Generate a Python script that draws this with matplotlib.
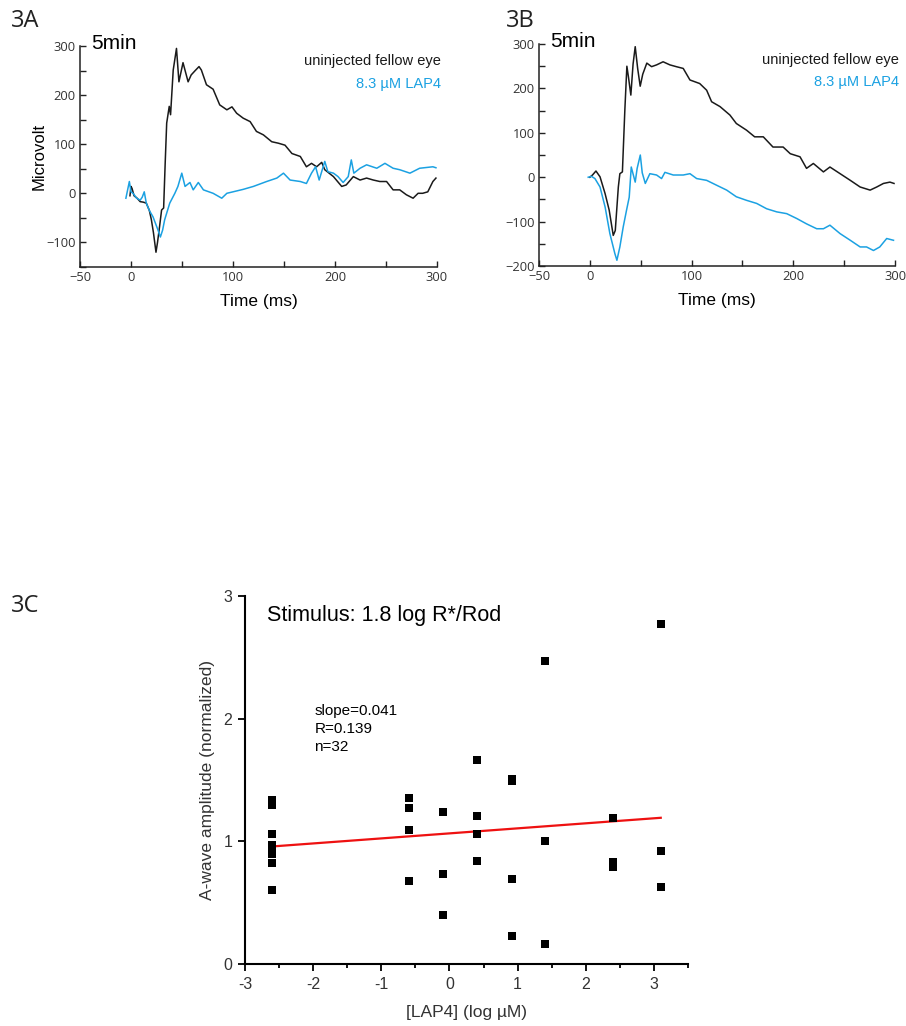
import matplotlib
matplotlib.use("Agg")
import matplotlib.pyplot as plt
import numpy as np

# ---------------- data ----------------
# Panel 3A
a_fellow_t = [-1, 0, 1, 3, 6, 9, 12, 15, 18, 20, 22, 24.5, 26, 28, 30, 32, 33.5, 35, 37.5, 38.8,
              41.4, 44.6, 47, 51, 56, 59, 63, 66.7, 69, 74, 80.5, 87, 94, 99, 103.6, 110, 116.8,
              123, 129.8, 138, 144.5, 151, 157.8, 166, 172, 177, 182, 187, 190, 198.5, 206.6,
              211, 218, 224.6, 231, 237.6, 244, 250.6, 257, 263.5, 270, 276.6, 281.5, 286, 291,
              296, 299]
a_fellow_v = [-5, 14, 10, -5, -10, -17, -18, -20, -35, -54, -80, -120, -100, -68, -34, -30, 60,
              143, 177, 160, 251, 295, 227, 266, 227, 241, 250, 258, 251, 221, 212, 180, 170,
              176, 163, 153, 146, 126, 119, 105, 102, 98, 81, 75, 54, 61, 54, 63, 48, 34, 14,
              17, 34, 27, 31, 27, 24, 24, 7, 7, -3, -10, 0, 0, 3, 24, 31]
a_lap4_t = [-5, -1.6, 0, 2, 5.6, 9, 11, 13, 15, 18, 21.6, 26.5, 28.8, 31, 33, 38, 43, 46, 49.8,
            53, 57.8, 61, 66, 71, 80.5, 89, 94, 100, 110, 120, 133, 143, 149.5, 156, 166, 172,
            177, 181, 184.5, 190, 193, 198.5, 203, 208, 213, 216, 218.5, 224.6, 231, 241, 249,
            257, 263.5, 273.5, 283, 296, 299]
a_lap4_v = [-10, 24, 3, 0, -10, -14, -8, 3, -20, -35, -48, -75, -89, -75, -54, -20, 0, 14, 41,
            14, 22, 7, 22, 7, 0, -10, 0, 3, 8, 14, 24, 31, 41, 27, 24, 20, 41, 54, 27, 65, 44,
            41, 34, 22, 34, 68, 41, 51, 58, 51, 61, 51, 48, 41, 51, 54, 52]

# Panel 3B
b_fellow_t = [0, 2.6, 6, 10, 15, 19, 23, 25, 28, 29.5, 32, 34.4, 36.4, 38, 40.3, 42.5, 44.6, 47,
              49.5, 52, 56, 60.7, 65.6, 72, 78.7, 85, 91.8, 98.4, 108, 114.8, 119.7, 128, 137.7,
              144, 154, 162, 170.5, 180, 190, 197, 206.6, 213, 219.7, 229.6, 236, 246, 256,
              265.7, 275.5, 282, 288.6, 295, 299]
b_fellow_v = [0, 5, 14, 1, -37, -74, -131, -120, -22, 8, 12, 151, 250, 225, 185, 255, 294, 245,
              205, 232, 257, 249, 253, 260, 253, 249, 245, 219, 211, 196, 170, 159, 140, 121,
              106, 91, 91, 68, 68, 53, 46, 20, 31, 12, 23, 8, -7, -22, -29, -22, -14, -11, -14]
b_lap4_t = [-1.6, 1.6, 5, 10, 15, 19.7, 24.6, 26.6, 29.5, 32.8, 36, 38.7, 40.7, 44.6, 46.5,
            49.6, 51.5, 54.5, 59, 65.6, 70.5, 73.8, 82, 91.8, 98.4, 105, 114.8, 124.6, 134.5,
            144, 154, 164, 173.8, 183.7, 193.5, 203.4, 213, 223, 229.6, 236, 246, 256, 265.7,
            272, 278.8, 285, 291.8, 298.5]
b_lap4_v = [0, 2, -3, -22, -67, -127, -172, -187, -157, -112, -75, -45, 23, -11, 20, 50, 10,
            -14, 8, 5, -3, 11, 5, 5, 8, -3, -7, -18, -29, -44, -52, -59, -71, -78, -82, -93,
            -105, -116, -116, -108, -127, -142, -157, -157, -165, -157, -138, -142]

# Panel 3C
lap4_log = [-2.6, -2.6, -2.6, -2.6, -2.6, -2.6, -2.6, -2.6,
            -0.6, -0.6, -0.6, -0.6,
            -0.1, -0.1, -0.1,
            0.4, 0.4, 0.4, 0.4,
            0.92, 0.92, 0.92, 0.92,
            1.4, 1.4, 1.4,
            2.4, 2.4, 2.4,
            3.1, 3.1, 3.1]
awave_amp = [1.34, 1.30, 1.06, 0.97, 0.93, 0.90, 0.82, 0.60,
             1.35, 1.27, 1.09, 0.68,
             1.24, 0.73, 0.40,
             1.66, 1.21, 1.06, 0.84,
             1.51, 1.49, 0.69, 0.23,
             2.47, 1.00, 0.16,
             1.19, 0.83, 0.79,
             2.77, 0.92, 0.63]
fit_slope = 0.041
fit_intercept = 1.065
fit_x_range = [-2.6, 3.1]

trace_labels = ["uninjected fellow eye", "8.3 \u00b5M LAP4"]
black = "#1a1a1a"
blue = "#1ba1e2"
tickcol = "#333333"

# ---------------- figure ----------------
fig = plt.figure(figsize=(9.06, 10.26), dpi=100)
SANS = ["Liberation Sans", "DejaVu Sans"]
TICKF = ["Open Sans", "DejaVu Sans"]


def erg_axes(rect, t1, v1, t2, v2, ylim, ylabels, show_ylabel):
    ax = fig.add_axes(rect)
    ax.plot(t1, v1, color=black, lw=1.1)
    ax.plot(t2, v2, color=blue, lw=1.1)
    ax.set_xlim(-50, 300)
    ax.set_ylim(*ylim)
    for s in ["top", "right"]:
        ax.spines[s].set_visible(False)
    for s in ["left", "bottom"]:
        ax.spines[s].set_linewidth(1.1)
        ax.spines[s].set_color("#222222")
    xt = np.arange(-50, 301, 50)
    ax.set_xticks(xt)
    ax.set_xticklabels([("\u2212%d" % -v if v < 0 else "%d" % v) if v in (-50, 0, 100, 200, 300) else ""
                        for v in xt])
    yt = np.arange(ylim[0], ylim[1] + 1, 50)
    ax.set_yticks(yt)
    ax.set_yticklabels([("\u2212%d" % -v if v < 0 else "%d" % v) if v in ylabels else "" for v in yt])
    ax.tick_params(direction="in", length=4, width=1.0, color="#222222",
                   labelsize=9.3, labelcolor=tickcol, pad=3)
    for lab in ax.get_xticklabels() + ax.get_yticklabels():
        lab.set_family(TICKF)
    ax.set_xlabel("Time (ms)", fontsize=12.5, family=SANS, labelpad=7)
    if show_ylabel:
        ax.set_ylabel("Microvolt", fontsize=12, family=SANS, labelpad=0)
    ax.text(0.03, 1.01, "5min", transform=ax.transAxes, fontsize=15, family=SANS,
            ha="left", va="center")
    ax.text(1.01, 0.93, trace_labels[0], transform=ax.transAxes, fontsize=10.5, family=SANS,
            ha="right", va="center", color=black)
    ax.text(1.01, 0.83, trace_labels[1], transform=ax.transAxes, fontsize=10.5, family=SANS,
            ha="right", va="center", color=blue)
    return ax


axA = erg_axes([0.0883, 0.7398, 0.394, 0.2154], a_fellow_t, a_fellow_v, a_lap4_t, a_lap4_v,
               (-150, 300), (-100, 0, 100, 200, 300), True)
axB = erg_axes([0.5949, 0.7407, 0.393, 0.2164], b_fellow_t, b_fellow_v, b_lap4_t, b_lap4_v,
               (-200, 300), (-200, -100, 0, 100, 200, 300), False)

# Panel C
axC = fig.add_axes([0.2704, 0.0604, 0.489, 0.3587])
axC.scatter(lap4_log, awave_amp, marker="s", s=30, color="black", zorder=3, linewidths=0)
fx = np.array(fit_x_range)
axC.plot(fx, fit_slope * fx + fit_intercept, color="#ee1111", lw=1.6, zorder=2)
axC.set_xlim(-3, 3.5)
axC.set_ylim(0, 3)
for s in ["top", "right"]:
    axC.spines[s].set_visible(False)
for s in ["left", "bottom"]:
    axC.spines[s].set_linewidth(1.5)
axC.set_xticks([-3, -2, -1, 0, 1, 2, 3])
axC.set_xticklabels(["-3", "-2", "-1", "0", "1", "2", "3"])
axC.set_xticks(np.arange(-2.5, 3.6, 1.0), minor=True)
axC.set_yticks([0, 1, 2, 3])
axC.set_yticklabels(["0", "1", "2", "3"])
axC.tick_params(which="major", direction="out", length=5, width=1.3, labelsize=11.5,
                labelcolor=tickcol, pad=4)
axC.tick_params(which="minor", direction="out", length=3, width=1.3)
for lab in axC.get_xticklabels() + axC.get_yticklabels():
    lab.set_family(SANS)
axC.set_xlabel("[LAP4] (log \u00b5M)", fontsize=12.5, family=SANS, color=tickcol, labelpad=10)
axC.set_ylabel("A-wave amplitude (normalized)", fontsize=12.5, family=SANS, color=tickcol,
               labelpad=6)
axC.text(0.05, 0.947, "Stimulus: 1.8 log R*/Rod", transform=axC.transAxes, fontsize=15.5,
         family=SANS, ha="left", va="center")
axC.text(0.157, 0.706, "slope=0.041\nR=0.139\nn=32", transform=axC.transAxes, fontsize=11,
         family=SANS, ha="left", va="top", linespacing=1.35)

# panel letters
for x, y, s in [(0.012, 0.980, "3A"), (0.558, 0.980, "3B"), (0.012, 0.409, "3C")]:
    fig.text(x, y, s, fontsize=17, family=["Open Sans", "DejaVu Sans"], ha="left", va="center",
             color="#222222")

fig.savefig("out.png", dpi=100)
